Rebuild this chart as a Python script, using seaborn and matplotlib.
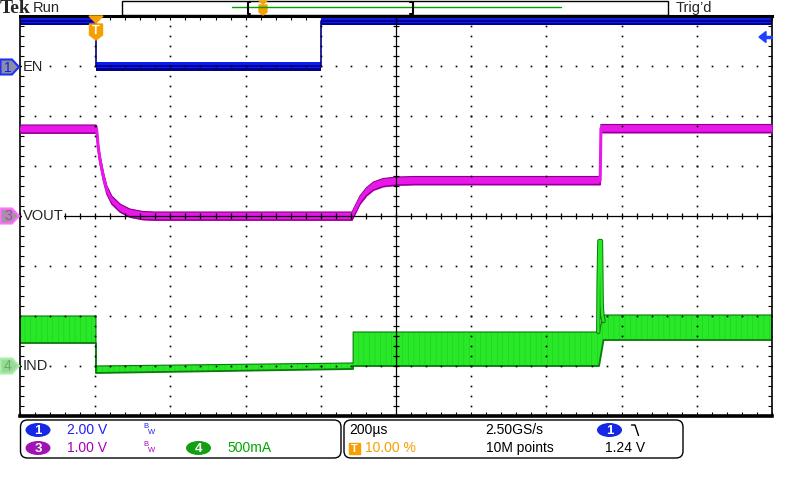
import numpy as np
import matplotlib
matplotlib.use('Agg')
import matplotlib.pyplot as plt
import seaborn as sns
from matplotlib.patches import Polygon, FancyBboxPatch, Ellipse, Rectangle
from matplotlib.ticker import MultipleLocator

# time in microseconds, 200 us/div, trigger at 10 % of record
t_min, t_max = -200, 1800

# CH1 EN (V), 2 V/div, ground 3 div above centre
en_t = [-200, 2, 2, 601, 601, 1800]
en_v = [1.82, 1.82, 0.0, 0.0, 1.82, 1.82]

# CH3 VOUT (V), 1 V/div, ground at centre
vout_t = [-200, 2, 4, 8, 13, 22, 31, 44, 66, 92, 127, 160, 683, 691, 704, 722, 740, 766, 802, 850, 1343, 1345, 1800]
vout_v = [1.74, 1.74, 1.72, 1.38, 1.12, 0.78, 0.52, 0.32, 0.16, 0.06, 0.01, 0.0, 0.0, 0.12, 0.32, 0.49, 0.60, 0.67, 0.70, 0.71, 0.71, 1.75, 1.75]

# CH4 IND (A), 500 mA/div, ground 3 div below centre (ripple envelope)
ind_t = [-200, 2, 2, 686, 686, 1340, 1352, 1800]
ind_lo = [0.23, 0.23, -0.07, -0.03, 0.0, 0.0, 0.26, 0.26]
ind_hi = [0.50, 0.50, 0.00, 0.03, 0.34, 0.34, 0.51, 0.51]
spike_t = [1338, 1339, 1341, 1345, 1346, 1347, 1349, 1352]
spike_a = [0.34, 0.84, 1.25, 1.25, 0.95, 0.61, 0.50, 0.45]

# volts (or amps) per division and ground offset in divisions
scale = {'EN': 2.0, 'VOUT': 1.0, 'IND': 0.5}
offset = {'EN': 3.0, 'VOUT': 0.0, 'IND': -3.0}

BLUE, BLUE_D = '#0c1cf0', '#00008a'
MAG, MAG_D = '#e818e8', '#8a008a'
GRN, GRN_D = '#28e828', '#0a7a0a'
ORANGE = '#f5a000'


def to_div(vals, ch):
    return np.asarray(vals, dtype=float) / scale[ch] + offset[ch]


def draw_graticule(ax):
    fine_y = np.arange(-4, 4.001, 0.2)
    fine_x = np.arange(t_min, t_max + 1, 40)
    for x in range(t_min + 200, t_max, 200):
        if x == 800:
            continue
        ax.plot(np.full_like(fine_y, x), fine_y, ls='none', marker='s', ms=1.2,
                mew=0, color='black', zorder=5)
    for y in range(-3, 4):
        if y == 0:
            continue
        ax.plot(fine_x, np.full(len(fine_x), float(y)), ls='none', marker='s', ms=1.2,
                mew=0, color='black', zorder=5)
    ax.axvline(800, color='black', lw=0.9, zorder=5)
    ax.axhline(0, color='black', lw=0.9, zorder=5)
    ax.plot(fine_x, np.zeros(len(fine_x)), ls='none', marker='|', ms=4, mew=0.9,
            color='black', zorder=5)
    ax.plot(np.full_like(fine_y, 800), fine_y, ls='none', marker='_', ms=4, mew=0.9,
            color='black', zorder=5)


sns.set_theme(style='white')
plt.rcParams['font.family'] = ['Liberation Sans', 'DejaVu Sans']
plt.rcParams['hatch.linewidth'] = 0.3

fig = plt.figure(figsize=(8, 4.8), dpi=100)
ax = fig.add_axes([20 / 800, 64 / 480, 752 / 800, 400 / 480])
ax.set_xlim(t_min, t_max)
ax.set_ylim(-4, 4)

# EN
en_d = to_div(en_v, 'EN')
ax.fill_between(en_t, en_d - 0.04, en_d + 0.08, color=BLUE, lw=0, zorder=2)
ax.fill_between(en_t, en_d - 0.09, en_d - 0.04, color=BLUE_D, lw=0, zorder=2)
sns.lineplot(x=en_t, y=en_d, ax=ax, color=BLUE_D, lw=1.2, estimator=None, sort=False, zorder=2)

# VOUT
vout_d = to_div(vout_v, 'VOUT')
ax.fill_between(vout_t, vout_d - 0.09, vout_d + 0.09, color=MAG, lw=0, zorder=3)
sns.lineplot(x=vout_t, y=vout_d + 0.08, ax=ax, color=MAG_D, lw=0.8, estimator=None, sort=False, zorder=3)
sns.lineplot(x=vout_t, y=vout_d - 0.08, ax=ax, color=MAG_D, lw=1.0, estimator=None, sort=False, zorder=3)
sns.lineplot(x=vout_t, y=vout_d, ax=ax, color=MAG, lw=2.2, estimator=None, sort=False, zorder=3)

# IND
lo_d, hi_d = to_div(ind_lo, 'IND'), to_div(ind_hi, 'IND')
ax.fill_between(ind_t, lo_d, hi_d, facecolor=GRN, edgecolor='#1cc41c', hatch='|||', lw=0, zorder=2)
sns.lineplot(x=ind_t, y=lo_d, ax=ax, color=GRN_D, lw=1.3, estimator=None, sort=False, zorder=2)
sns.lineplot(x=ind_t, y=hi_d, ax=ax, color=GRN_D, lw=0.8, estimator=None, sort=False, zorder=2)
spike_d = to_div(spike_a, 'IND')
sns.lineplot(x=spike_t, y=spike_d, ax=ax, color=GRN_D, lw=3.2, estimator=None, sort=False, zorder=3)
sns.lineplot(x=spike_t, y=spike_d, ax=ax, color=GRN, lw=1.8, estimator=None, sort=False, zorder=3)

draw_graticule(ax)
ax.xaxis.set_major_locator(MultipleLocator(40))
ax.yaxis.set_major_locator(MultipleLocator(0.2))
ax.tick_params(axis='both', direction='in', length=3, width=0.8, color='black',
               top=True, right=True, bottom=True, left=True,
               labelbottom=False, labelleft=False)
ax.set_xlabel('')
ax.set_ylabel('')
for side, w in [('top', 2.2), ('bottom', 2.6), ('left', 1.2), ('right', 1.2)]:
    ax.spines[side].set_color('black')
    ax.spines[side].set_linewidth(w)
    ax.spines[side].set_visible(True)
ax.grid(False)

# overlay in pixel coordinates for the scope chrome
ov = fig.add_axes([0, 0, 1, 1], zorder=10)
ov.set_xlim(0, 800)
ov.set_ylim(480, 0)
ov.axis('off')
ov.patch.set_alpha(0)

ov.text(-0.5, 8.5, 'Tek', family=['Liberation Serif', 'DejaVu Serif'], fontweight='bold',
        fontsize=14, va='center', ha='left')
ov.text(33, 8, 'Run', fontsize=10.5, va='center')
ov.add_patch(Rectangle((122, 0.5), 546, 14.5, fill=False, lw=1, ec='black'))
ov.plot([232, 561], [7, 7], color='#00a000', lw=1)
ov.plot([250, 247.5, 247.5, 250], [1.5, 1.5, 14, 14], color='black', lw=1.5)
ov.plot([410, 412.5, 412.5, 410], [1.5, 1.5, 14, 14], color='black', lw=1.5)
ov.add_patch(Polygon([(259, 1), (267, 1), (263, 4)], color=ORANGE))
ov.add_patch(Polygon([(259, 5), (267, 5), (267, 12), (263, 15), (259, 12)], color=ORANGE))
ov.text(676, 8, 'Trig\u2019d', fontsize=10.5, va='center')

# trigger position and level markers
ov.add_patch(Polygon([(89, 16), (103, 16), (96, 23)], color=ORANGE))
ov.add_patch(Polygon([(89.5, 24), (102.5, 24), (102.5, 35), (96, 40), (89.5, 35)], color=ORANGE))
ov.text(96, 31, 'T', color='white', fontsize=9, fontweight='bold', ha='center', va='center')
ov.add_patch(Polygon([(759, 37), (766, 31.5), (766, 42.5)], color='#2040ff'))
ov.plot([765, 771], [37, 37], color='#2040ff', lw=2.5)

# channel ground markers and labels
for y, num, fc, ec, tc, label in [(67, '1', '#8c8ca4', '#2030ff', '#1020e0', 'EN'),
                                  (216, '3', '#a890a8', '#ff70ff', '#b040b0', 'VOUT'),
                                  (366, '4', '#98d898', '#a8f0a8', '#60b060', 'IND')]:
    ov.add_patch(Polygon([(0.5, y - 7.5), (12, y - 7.5), (19, y), (12, y + 7.5), (0.5, y + 7.5)],
                         fc=fc, ec=ec, lw=1.5))
    ov.text(8, y + 0.5, num, color=tc, fontsize=10, ha='center', va='center')
    ov.text(23, y, label, fontsize=10.5, va='center', ha='left',
            bbox=dict(fc='white', ec='none', pad=0.5))

# bottom readout panels
for x0, w in [(20.5, 320.5), (344, 339)]:
    ov.add_patch(FancyBboxPatch((x0, 420), w, 38, boxstyle='round,pad=0,rounding_size=7',
                                fc='white', ec='black', lw=1))


def badge(x, y, num, color):
    ov.add_patch(Ellipse((x, y), 25, 14, fc=color, ec='none'))
    ov.text(x, y + 0.5, num, color='white', fontsize=9.5, fontweight='bold', ha='center', va='center')


badge(38, 430, '1', '#1428e6')
ov.text(67, 430, '2.00 V', color='#2020f0', fontsize=10, va='center')
ov.text(143, 427, 'B', color='#2020f0', fontsize=5.5, va='center')
ov.text(147.5, 432, 'W', color='#2020f0', fontsize=5.5, va='center')
badge(38, 448, '3', '#a012b4')
ov.text(67, 448, '1.00 V', color='#a800b0', fontsize=10, va='center')
ov.text(143, 445, 'B', color='#a800b0', fontsize=5.5, va='center')
ov.text(147.5, 450, 'W', color='#a800b0', fontsize=5.5, va='center')
badge(198.5, 448, '4', '#12a012')
ov.text(227, 448, '500mA', color='#00a800', fontsize=10, va='center')

ov.text(349, 430, '200\u00b5s', color='black', fontsize=10, va='center')
ov.text(485, 430, '2.50GS/s', color='black', fontsize=10, va='center')
badge(609.5, 430, '1', '#1428e6')
ov.plot([631.5, 635, 638.5], [425, 425, 435.5], color='black', lw=1)
ov.add_patch(Rectangle((348.5, 442.5), 11.5, 11.5, color=ORANGE))
ov.text(354.2, 448.5, 'T', color='white', fontsize=8, fontweight='bold', ha='center', va='center')
ov.text(365, 448, '10.00 %', color=ORANGE, fontsize=10, va='center')
ov.text(486, 448, '10M points', color='black', fontsize=10, va='center')
ov.text(605, 448, '1.24 V', color='black', fontsize=10, va='center')

fig.savefig('out.png', dpi=100, facecolor='white')
